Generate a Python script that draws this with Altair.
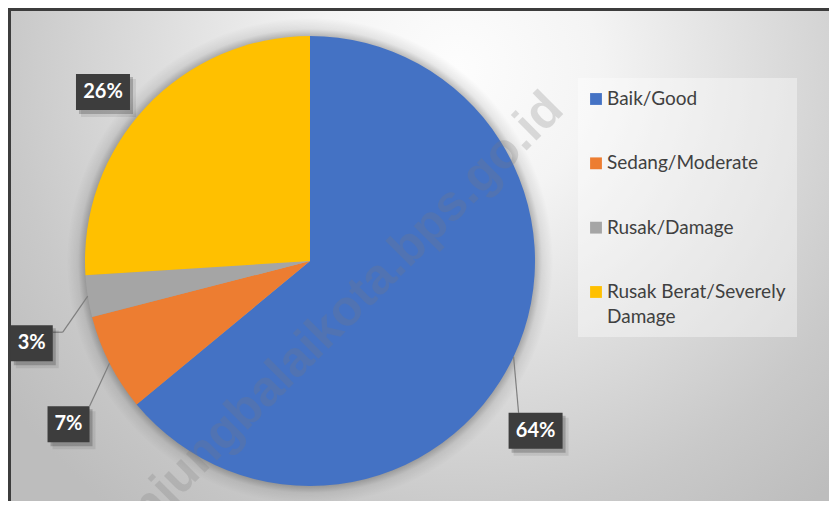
import altair as alt
import pandas as pd

# ---------------- data ----------------
categories = ["Baik/Good", "Sedang/Moderate", "Rusak/Damage", "Rusak Berat/Severely Damage"]
values = [64, 7, 3, 26]
colors = ["#4472C4", "#ED7D31", "#A5A5A5", "#FFC000"]
watermark = ["tanjungbalaikota.bps.go.id"]

# ---------------- layout (pixels, chart coordinates) ----------------
W, H = 821, 493
CX, CY, R = 302, 253, 225
# label-box centre relative to the slice's outer edge point
label_offset = {
    "Baik/Good": (22, 74),
    "Sedang/Moderate": (-41, 61),
    "Rusak/Damage": (-56, 47),
    "Rusak Berat/Severely Damage": (-43, -15),
}
# leader line: elbow and end relative to the label centre (None = no leader)
leader_elbow = {
    "Baik/Good": (-17, -18),
    "Sedang/Moderate": (21, -18),
    "Rusak/Damage": (31, -11),
    "Rusak Berat/Severely Damage": None,
}
leader_end = {
    "Baik/Good": (-17, -18),
    "Sedang/Moderate": (21, -18),
    "Rusak/Damage": (21, -11),
    "Rusak Berat/Severely Damage": None,
}
LEG_X, LEG_Y0, LEG_STEP, LEG_LINE = 588, 91, 64.33, 25.5

df = pd.DataFrame({
    "category": categories,
    "value": values,
    "order": list(range(len(categories))),
    "odx": [label_offset[c][0] for c in categories],
    "ody": [label_offset[c][1] for c in categories],
    "mdx": [(leader_elbow[c] or (0, 0))[0] for c in categories],
    "mdy": [(leader_elbow[c] or (0, 0))[1] for c in categories],
    "tdx": [(leader_end[c] or (0, 0))[0] for c in categories],
    "tdy": [(leader_end[c] or (0, 0))[1] for c in categories],
    "lead": [0 if leader_elbow[c] is None else 1 for c in categories],
})
one = pd.DataFrame({"k": [0]})
wm_df = pd.DataFrame({"t": watermark})

color_scale = alt.Scale(domain=categories, range=colors)

base = (
    alt.Chart(df)
    .transform_window(cum="sum(value)", sort=[alt.SortField("order")], frame=[None, 0])
    .transform_joinaggregate(total="sum(value)")
    .transform_calculate(
        ang="2*PI*(datum.cum - datum.value/2)/datum.total",
        ex=f"{CX} + {R}*sin(datum.ang)",
        ey=f"{CY} - {R}*cos(datum.ang)",
        lx="datum.ex + datum.odx",
        ly="datum.ey + datum.ody",
        mx="datum.lx + datum.mdx",
        my="datum.ly + datum.mdy",
        tx="datum.lx + datum.tdx",
        ty="datum.ly + datum.tdy",
        pct="format(datum.value/datum.total, '.0%')",
        bw="18 + 12*length(datum.pct)",
        bx1="datum.lx - datum.bw/2",
        bx2="datum.lx + datum.bw/2",
        by1="datum.ly - 18",
        by2="datum.ly + 18",
    )
)

def px(f):
    return alt.X(f"{f}:Q", scale=None, axis=None)

def py(f):
    return alt.Y(f"{f}:Q", scale=None, axis=None)

# background with radial gradient (circular, normalised to the larger side)
gx = 450 / W
gy = (60 - H / 2) / W + 0.5
bg = alt.Chart(one).mark_rect(
    fill={
        "gradient": "radial",
        "x1": gx, "y1": gy, "r1": 0,
        "x2": gx, "y2": gy, "r2": 560 / W,
        "stops": [
            {"offset": 0, "color": "#fdfdfd"},
            {"offset": 0.25, "color": "#f4f4f4"},
            {"offset": 0.8, "color": "#c9c9c9"},
            {"offset": 1, "color": "#bdbdbd"},
        ],
    }
).encode(x=alt.value(0), x2=alt.value(W), y=alt.value(0), y2=alt.value(H))

border_top = alt.Chart(one).mark_rule(color="#3c3c3c", strokeWidth=3).encode(
    x=alt.value(0), x2=alt.value(W), y=alt.value(1.5))
border_left = alt.Chart(one).mark_rule(color="#3c3c3c", strokeWidth=3).encode(
    x=alt.value(1.5), y=alt.value(0), y2=alt.value(H))

RS = R + 18
shadow = alt.Chart(one).mark_arc(
    radius=RS, theta=0, theta2=6.2832,
    fill={
        "gradient": "radial",
        "x1": 0.5, "y1": 0.5, "r1": 0,
        "x2": 0.5, "y2": 0.5, "r2": 0.5,
        "stops": [
            {"offset": 0, "color": "rgba(0,0,0,0.25)"},
            {"offset": R / RS, "color": "rgba(0,0,0,0.25)"},
            {"offset": (R + 7) / RS, "color": "rgba(0,0,0,0.08)"},
            {"offset": 1, "color": "rgba(0,0,0,0)"},
        ],
    },
).encode(x=alt.value(CX), y=alt.value(CY))

pie = alt.Chart(df).mark_arc(radius=R).encode(
    theta=alt.Theta("value:Q", stack=True),
    color=alt.Color("category:N", scale=color_scale, legend=None),
    order=alt.Order("order:Q"),
    x=alt.value(CX),
    y=alt.value(CY),
)

wm = alt.Chart(wm_df).mark_text(
    font="Liberation Sans", fontWeight="bold", fontSize=50, angle=315,
    color="#7a7a7a", opacity=0.24, align="center", baseline="middle",
).encode(x=alt.value(323), y=alt.value(317), text="t:N")

lead1 = base.transform_filter("datum.lead == 1").mark_rule(color="#7f7f7f", strokeWidth=1.2).encode(
    x=px("ex"), y=py("ey"), x2="mx:Q", y2="my:Q")
lead2 = base.transform_filter("datum.lead == 1").mark_rule(color="#7f7f7f", strokeWidth=1.2).encode(
    x=px("mx"), y=py("my"), x2="tx:Q", y2="ty:Q")

box_sh2 = base.mark_rect(color="black", opacity=0.08, xOffset=5, x2Offset=6, yOffset=5, y2Offset=7).encode(
    x=px("bx1"), x2="bx2:Q", y=py("by1"), y2="by2:Q")
box_sh = base.mark_rect(color="black", opacity=0.2, xOffset=3, x2Offset=3, yOffset=3, y2Offset=4).encode(
    x=px("bx1"), x2="bx2:Q", y=py("by1"), y2="by2:Q")
box = base.mark_rect(color="#3d3d3d").encode(
    x=px("bx1"), x2="bx2:Q", y=py("by1"), y2="by2:Q")
lab = base.mark_text(font="Lato", fontWeight="bold", fontSize=20, color="white",
                     align="center", baseline="middle").encode(
    x=px("lx"), y=py("ly"), text="pct:N")

# legend
leg_bg = alt.Chart(one).mark_rect(color="white", opacity=0.38).encode(
    x=alt.value(570), x2=alt.value(789), y=alt.value(70), y2=alt.value(329))
leg_sq = (
    alt.Chart(df)
    .transform_calculate(legy=f"{LEG_Y0} + datum.order*{LEG_STEP}")
    .mark_square(size=140, opacity=1)
    .encode(x=alt.value(LEG_X), y=py("legy"),
            color=alt.Color("category:N", scale=color_scale, legend=None))
)
leg_txt = (
    alt.Chart(df)
    .transform_calculate(lines="split(replace(datum.category, 'Severely ', 'Severely|'), '|')")
    .transform_flatten(["lines"])
    .transform_window(li="row_number()", groupby=["category"])
    .transform_calculate(legy=f"{LEG_Y0} + datum.order*{LEG_STEP} + (datum.li-1)*{LEG_LINE}")
    .mark_text(font="Lato", fontSize=19, color="#404040", align="left", baseline="middle")
    .encode(x=alt.value(LEG_X + 11), y=py("legy"), text="lines:N")
)

chart = (
    alt.layer(bg, shadow, pie, wm, lead1, lead2, box_sh2, box_sh, box, lab,
              leg_bg, leg_sq, leg_txt, border_top, border_left)
    .properties(width=W, height=H, padding=0, autosize="none", background="white")
    .configure_view(stroke=None)
)

chart.save("out.html", embed_options={"renderer": "svg", "actions": False})
